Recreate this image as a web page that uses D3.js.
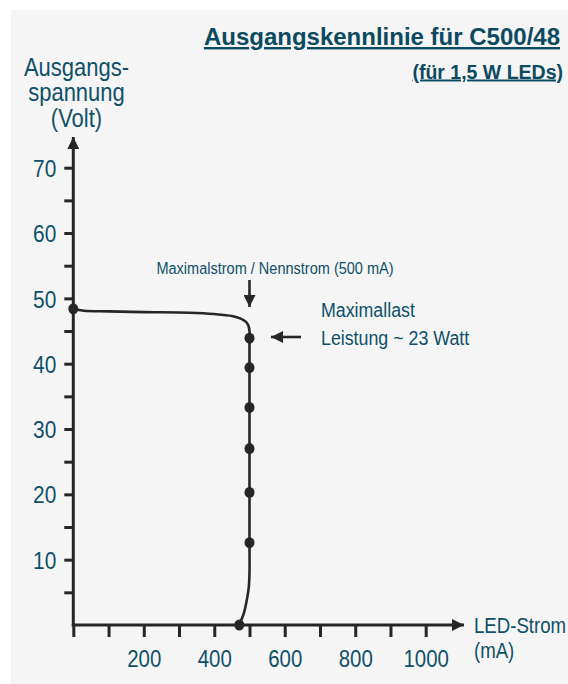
<!DOCTYPE html>
<html lang="de">
<head>
  <meta charset="UTF-8">
  <title>Ausgangskennlinie für C500/48</title>
  <style type="text/css">
    body {
      margin: 0;
      background: #fff;
    }
    svg text {
      font-family: "Liberation Sans", Arial, sans-serif;
      fill: #0f5068;
    }
    .axis line, .axis path {
      stroke: #262626;
    }
  </style>
  <script src="https://cdn.jsdelivr.net/npm/d3@7/dist/d3.min.js"></script>
</head>
<body>
  <div class="main"></div>
  <script>
    // chart data
    var curveI = [0, 30, 100, 200, 330, 400, 450, 475, 490, 497, 500, 500, 500, 500, 500, 500, 500, 500, 498, 493, 484, 471];
    var curveU = [48.4, 48.1, 48.0, 47.9, 47.8, 47.6, 47.3, 46.9, 46.4, 45.8, 45.0, 43.9, 39.4, 33.3, 27.0, 20.3, 12.6, 8.0, 5.8, 4.0, 1.8, 0];

    var dotI = [0, 500, 500, 500, 500, 500, 500, 471];
    var dotU = [48.4, 43.9, 39.4, 33.3, 27.0, 20.3, 12.6, 0];

    var xTicks = [0, 100, 200, 300, 400, 500, 600, 700, 800, 900, 1000];
    var xTickLabels = ["", "", "200", "", "400", "", "600", "", "800", "", "1000"];
    var yTicks = [5, 10, 15, 20, 25, 30, 35, 40, 45, 50, 55, 60, 65, 70];
    var yTickLabels = ["", "10", "", "20", "", "30", "", "40", "", "50", "", "60", "", "70"];

    var width = 568, height = 684;
    var axisColor = "#262626";

    var x = d3.scaleLinear().domain([0, 1000]).range([73.3, 425.7]);
    var y = d3.scaleLinear().domain([0, 70]).range([625, 167.7]);

    // the original uses a narrow font: squeeze text horizontally around its anchor
    function squeeze(sel, k, ax) {
      sel.each(function() {
        var t = d3.select(this);
        var a = ax != null ? ax : (+t.attr("x") || 0);
        t.attr("transform", "translate(" + a + ",0) scale(" + k + ",1) translate(" + (-a) + ",0)");
      });
    }

    var svg = d3.select(".main").append("svg")
        .attr("width", width)
        .attr("height", height);

    // grey panel
    svg.append("rect")
        .attr("x", 11).attr("y", 10)
        .attr("width", width - 11).attr("height", height - 10)
        .attr("fill", "#f5f5f5");

    var defs = svg.append("defs");
    defs.append("marker")
        .attr("id", "head")
        .attr("viewBox", "0 0 12 12")
        .attr("refX", 12).attr("refY", 6)
        .attr("markerWidth", 12).attr("markerHeight", 12)
        .attr("markerUnits", "userSpaceOnUse")
        .attr("orient", "auto")
      .append("path")
        .attr("d", "M0,0 L12,6 L0,12 Z")
        .attr("fill", axisColor);

    // title
    svg.append("text")
        .attr("x", 560).attr("y", 45)
        .attr("text-anchor", "end")
        .style("font-size", "24px")
        .style("font-weight", "bold")
        .style("text-decoration", "underline")
        .style("fill", "#0b4a60")
        .text("Ausgangskennlinie für C500/48");

    svg.append("text")
        .attr("x", 563).attr("y", 78.5)
        .attr("text-anchor", "end")
        .style("font-size", "19.5px")
        .style("font-weight", "bold")
        .style("text-decoration", "underline")
        .style("fill", "#0b4a60")
        .text("(für 1,5 W LEDs)");

    // y axis label
    var yLab = svg.append("text")
        .attr("text-anchor", "middle")
        .style("font-size", "25px");
    ["Ausgangs-", "spannung", "(Volt)"].forEach(function(s, i) {
      yLab.append("tspan").attr("x", 76.5).attr("y", 76 + i * 25.5).text(s);
    });
    squeeze(yLab, 0.88, 76.5);

    // x axis label
    var xLab = svg.append("text")
        .style("font-size", "23px");
    ["LED-Strom", "(mA)"].forEach(function(s, i) {
      xLab.append("tspan").attr("x", 474).attr("y", 633 + i * 25).text(s);
    });
    squeeze(xLab, 0.81, 474);

    // Y axis
    var yAxis = d3.axisLeft(y)
        .tickValues(yTicks)
        .tickSize(9)
        .tickPadding(8)
        .tickFormat(function(d, i) { return yTickLabels[i]; });

    var gy = svg.append("g")
        .attr("class", "axis")
        .attr("transform", "translate(" + x(0) + ",0)")
        .call(yAxis);
    gy.select(".domain").remove();
    gy.selectAll("line").attr("stroke-width", 3);
    gy.selectAll("text")
        .attr("dy", "0.36em")
        .style("font-size", "24px")
        .style("font-family", null);
    squeeze(gy.selectAll("text"), 0.87);

    // X axis
    var xAxis = d3.axisBottom(x)
        .tickValues(xTicks)
        .tickSize(12)
        .tickPadding(13)
        .tickFormat(function(d, i) { return xTickLabels[i]; });

    var gx = svg.append("g")
        .attr("class", "axis")
        .attr("transform", "translate(0," + y(0) + ")")
        .call(xAxis);
    gx.select(".domain").remove();
    gx.selectAll("line").attr("stroke-width", 3);
    gx.selectAll("text")
        .style("font-size", "24px")
        .style("font-family", null);
    squeeze(gx.selectAll("text"), 0.85);

    // axis lines with arrow heads
    svg.append("line")
        .attr("x1", x(0)).attr("y1", y(0) + 1.5)
        .attr("x2", x(0)).attr("y2", 137)
        .attr("stroke", axisColor).attr("stroke-width", 3)
        .attr("marker-end", "url(#head)");

    svg.append("line")
        .attr("x1", x(0) - 1.5).attr("y1", y(0))
        .attr("x2", 464).attr("y2", y(0))
        .attr("stroke", axisColor).attr("stroke-width", 3)
        .attr("marker-end", "url(#head)");

    // characteristic curve
    var pts = curveI.map(function(d, i) { return [d, curveU[i]]; });
    var line = d3.line()
        .x(function(d) { return x(d[0]); })
        .y(function(d) { return y(d[1]); })
        .curve(d3.curveCatmullRom.alpha(0.5));

    svg.append("path")
        .datum(pts)
        .attr("d", line)
        .attr("fill", "none")
        .attr("stroke", axisColor)
        .attr("stroke-width", 2.6);

    // measured points
    svg.selectAll(".dot")
        .data(dotI.map(function(d, i) { return [d, dotU[i]]; }))
      .enter().append("ellipse")
        .attr("class", "dot")
        .attr("cx", function(d) { return x(d[0]); })
        .attr("cy", function(d) { return y(d[1]); })
        .attr("rx", 5)
        .attr("ry", 5.5)
        .attr("fill", axisColor);

    // annotations
    var ann = svg.append("text")
        .attr("x", 275).attr("y", 274)
        .attr("text-anchor", "middle")
        .style("font-size", "17px")
        .text("Maximalstrom / Nennstrom (500 mA)");
    squeeze(ann, 0.855);

    svg.append("line")
        .attr("x1", x(500)).attr("y1", 280)
        .attr("x2", x(500)).attr("y2", 307)
        .attr("stroke", axisColor).attr("stroke-width", 2.6)
        .attr("marker-end", "url(#head)");

    svg.append("line")
        .attr("x1", 301).attr("y1", 337)
        .attr("x2", 271).attr("y2", 337)
        .attr("stroke", axisColor).attr("stroke-width", 2.6)
        .attr("marker-end", "url(#head)");

    var note = svg.append("text")
        .style("font-size", "20px");
    ["Maximallast", "Leistung ~ 23 Watt"].forEach(function(s, i) {
      note.append("tspan").attr("x", 321).attr("y", 317 + i * 28).text(s);
    });
    squeeze(note, 0.89, 321);
  </script>
</body>
</html>
